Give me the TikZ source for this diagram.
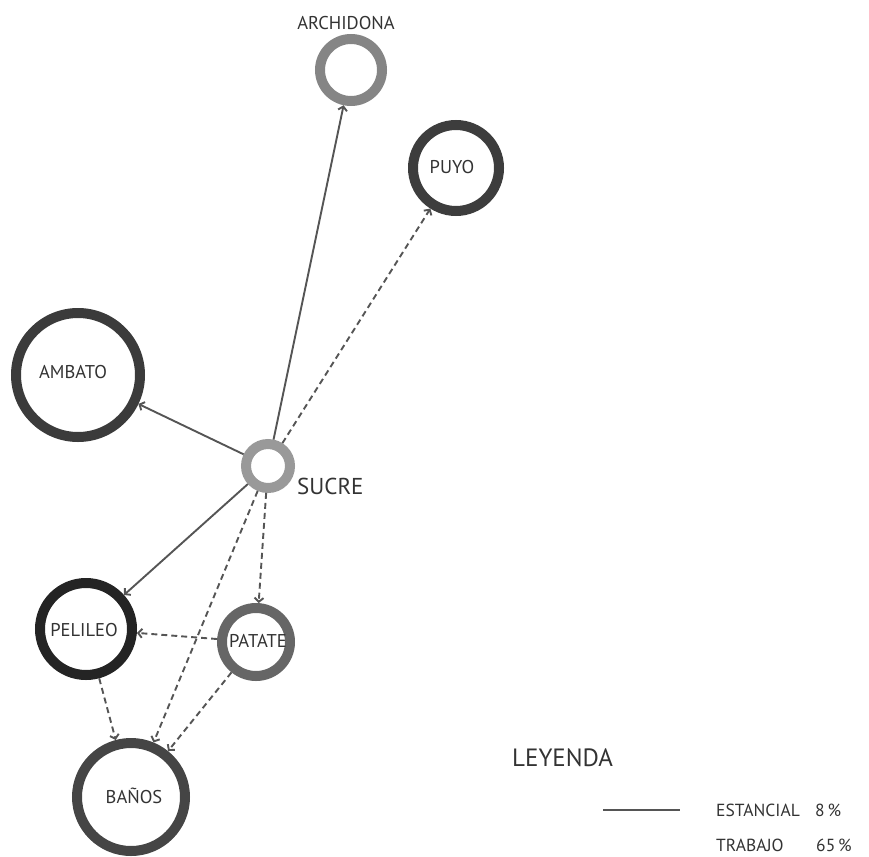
\documentclass[tikz,border=0pt]{standalone}
\usepackage{fontspec}
\setmainfont{PT Sans}
\usetikzlibrary{arrows.meta}
\definecolor{txt}{HTML}{333333}
\definecolor{link}{HTML}{555555}
\tikzset{
  ring/.style 2 args={circle, draw=#2, line width=10pt, inner sep=0pt, minimum size=#1},
  lbl/.style={text=txt, font=\fontsize{18.5}{18.5}\selectfont, inner sep=0pt},
  tip/.style={-{Straight Barb[length=4pt,width=9pt]}},
  estancial/.style={tip, draw=link, line width=1.9pt},
  trabajo/.style={tip, draw=link, line width=1.9pt, dash pattern=on 6pt off 4pt},
}
\begin{document}
\begin{tikzpicture}[x=1pt, y=-1pt]
\useasboundingbox (0,0) rectangle (869,856);

% places
\node[ring={62}{black!48}] (archidona) at (351,70) {};
\node[ring={86}{black!76}] (puyo) at (456,168) {};
\node[ring={124}{black!77}] (ambato) at (78,375) {};
\node[ring={44}{black!40}] (sucre) at (268,466) {};
\node[ring={92}{black!86}] (pelileo) at (86,629) {};
\node[ring={68}{black!60}] (patate) at (256,642) {};
\node[ring={108}{black!73}] (banos) at (131,797) {};

% names
\node[lbl] (archidonaL) at (346,23) {ARCHIDONA};
\node[lbl] (puyoL) at (452,167) {PUYO};
\node[lbl] (ambatoL) at (73,372) {AMBATO};
\node[lbl, font=\fontsize{23}{23}\selectfont, anchor=west] (sucreL) at (297,486) {SUCRE};
\node[lbl] (pelileoL) at (84,630) {PELILEO};
\node[lbl] (patateL) at (258,641) {PATATE};
\node[lbl] (banosL) at (134,796) {BAÑOS};

% flows
\draw[estancial] (sucre) -- (archidona);
\draw[estancial] (sucre) -- (ambato);
\draw[estancial] (sucre) -- (pelileo);
\draw[trabajo] (sucre) -- (puyo);
\draw[trabajo] (sucre) -- (patate);
\draw[trabajo] (sucre) -- (banos);
\draw[trabajo] (patate) -- (pelileo);
\draw[trabajo] (pelileo) -- (banos);
\draw[trabajo] (patate) -- (banos);

% legend
\node[lbl, font=\fontsize{25}{25}\selectfont, anchor=west] (leyenda) at (512,758) {LEYENDA};
\coordinate (l1a) at (603,810);
\coordinate (l1b) at (680,810);
\draw[draw=link, line width=1.9pt] (l1a) -- (l1b);
\node[lbl, font=\fontsize{17.5}{17.5}\selectfont, anchor=west] (est) at (716,810) {ESTANCIAL};
\node[lbl, font=\fontsize{17.5}{17.5}\selectfont, anchor=west] (estP) at (815,810) {8\,\%};
\node[lbl, font=\fontsize{17.5}{17.5}\selectfont, anchor=west] (trab) at (716,845) {TRABAJO};
\node[lbl, font=\fontsize{17.5}{17.5}\selectfont, anchor=west] (trabP) at (816,845) {65\,\%};
\end{tikzpicture}
\end{document}
